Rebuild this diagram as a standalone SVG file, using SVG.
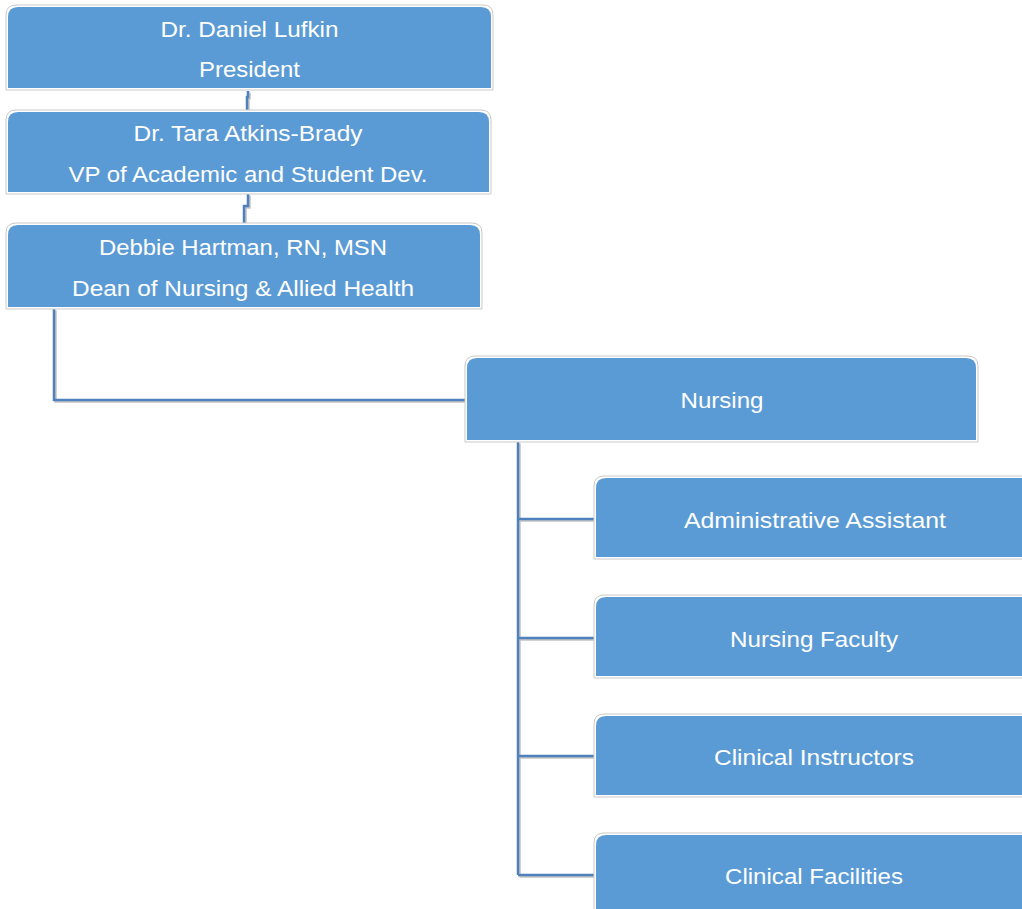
<svg xmlns="http://www.w3.org/2000/svg" width="1022" height="909" viewBox="0 0 1022 909">
<style>
.outer{fill:#ffffff;stroke:#c9c9c9;stroke-width:1}
.fill{fill:#5B9BD5}
.t{font-family:"Liberation Sans",Arial,sans-serif;font-size:22.5px;fill:#ffffff;text-anchor:middle}
.c{fill:none;stroke:#4F81BD;stroke-width:2.5}
.cs{fill:none;stroke:#c4c4c4;stroke-width:2.5}
</style>
<rect width="1022" height="909" fill="#ffffff"/>
<g id="connectors">
<g transform="translate(1.5,1.5)">
<path class="cs" d="M248 91 V97 H247 V110"/>
<path class="cs" d="M248 194 V206 H244 V224"/>
<path class="cs" d="M54 309 V400 H466"/>
<path class="cs" d="M518 442 V875 M518 519 H595 M518 638 H595 M518 756 H595 M518 875 H595"/>
</g>
<path class="c" d="M248 91 V97 H247 V110"/>
<path class="c" d="M248 194 V206 H244 V224"/>
<path class="c" d="M54 309 V400 H466"/>
<path class="c" d="M518 442 V875 M518 519 H595 M518 638 H595 M518 756 H595 M518 875 H595"/>
</g>
<g id="president">
<path class="outer" d="M6 90 V15 Q6 5 16 5 H483 Q493 5 493 15 V90 Z"/>
<path class="fill" d="M8 88 V17 Q8 7 18 7 H481 Q491 7 491 17 V88 Z"/>
<text class="t" x="249.5" y="36.5" textLength="178" lengthAdjust="spacingAndGlyphs">Dr. Daniel Lufkin</text>
<text class="t" x="249.5" y="77" textLength="101" lengthAdjust="spacingAndGlyphs">President</text>
</g>
<g id="vp">
<path class="outer" d="M6 194 V120 Q6 110 16 110 H481 Q491 110 491 120 V194 Z"/>
<path class="fill" d="M8 192 V122 Q8 112 18 112 H479 Q489 112 489 122 V192 Z"/>
<text class="t" x="248" y="141" textLength="229" lengthAdjust="spacingAndGlyphs">Dr. Tara Atkins-Brady</text>
<text class="t" x="248" y="182" textLength="359" lengthAdjust="spacingAndGlyphs">VP of Academic and Student Dev.</text>
</g>
<g id="dean">
<path class="outer" d="M6 309 V233 Q6 223 16 223 H472 Q482 223 482 233 V309 Z"/>
<path class="fill" d="M8 307 V235 Q8 225 18 225 H470 Q480 225 480 235 V307 Z"/>
<text class="t" x="243" y="255" textLength="288" lengthAdjust="spacingAndGlyphs">Debbie Hartman, RN, MSN</text>
<text class="t" x="243" y="296" textLength="342" lengthAdjust="spacingAndGlyphs">Dean of Nursing &amp; Allied Health</text>
</g>
<g id="nursing">
<path class="outer" d="M465 442 V366 Q465 356 475 356 H968 Q978 356 978 366 V442 Z"/>
<path class="fill" d="M467 440 V368 Q467 358 477 358 H966 Q976 358 976 368 V440 Z"/>
<text class="t" x="722" y="407.5" textLength="83" lengthAdjust="spacingAndGlyphs">Nursing</text>
</g>
<g id="admin">
<path class="outer" d="M594 559 V486 Q594 476 604 476 H1040 V559 Z"/>
<path class="fill" d="M596 557 V488 Q596 478 606 478 H1040 V557 Z"/>
<text class="t" x="815" y="527.5" textLength="262" lengthAdjust="spacingAndGlyphs">Administrative Assistant</text>
</g>
<g id="faculty">
<path class="outer" d="M594 678 V605 Q594 595 604 595 H1040 V678 Z"/>
<path class="fill" d="M596 676 V607 Q596 597 606 597 H1040 V676 Z"/>
<text class="t" x="814" y="646.5" textLength="168" lengthAdjust="spacingAndGlyphs">Nursing Faculty</text>
</g>
<g id="instructors">
<path class="outer" d="M594 797 V724 Q594 714 604 714 H1040 V797 Z"/>
<path class="fill" d="M596 795 V726 Q596 716 606 716 H1040 V795 Z"/>
<text class="t" x="814" y="764.5" textLength="200" lengthAdjust="spacingAndGlyphs">Clinical Instructors</text>
</g>
<g id="facilities">
<path class="outer" d="M594 920 V843 Q594 833 604 833 H1040 V920 Z"/>
<path class="fill" d="M596 920 V845 Q596 835 606 835 H1040 V920 Z"/>
<text class="t" x="814" y="883.5" textLength="178" lengthAdjust="spacingAndGlyphs">Clinical Facilities</text>
</g>
</svg>
